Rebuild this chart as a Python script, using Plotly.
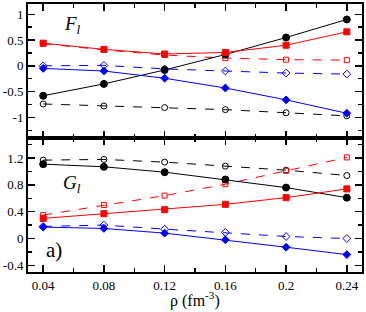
import plotly.graph_objects as go
from plotly.subplots import make_subplots

rho = [0.04, 0.08, 0.12, 0.16, 0.20, 0.24]

# F_l panel
F_black_solid = [-0.58, -0.35, -0.08, 0.22, 0.55, 0.90]
F_black_open = [-0.74, -0.78, -0.81, -0.85, -0.91, -0.97]
F_red_solid = [0.44, 0.32, 0.23, 0.26, 0.40, 0.66]
F_red_open = [0.43, 0.31, 0.21, 0.15, 0.12, 0.11]
F_blue_solid = [-0.05, -0.10, -0.24, -0.43, -0.66, -0.92]
F_blue_open = [0.00, 0.01, -0.06, -0.10, -0.14, -0.16]

# G_l panel
G_black_solid = [1.11, 1.07, 0.99, 0.88, 0.76, 0.61]
G_black_open = [1.17, 1.18, 1.14, 1.08, 1.02, 0.94]
G_red_solid = [0.30, 0.37, 0.43, 0.51, 0.61, 0.74]
G_red_open = [0.35, 0.50, 0.64, 0.81, 1.01, 1.21]
G_blue_solid = [0.17, 0.15, 0.08, -0.02, -0.13, -0.24]
G_blue_open = [0.18, 0.20, 0.14, 0.09, 0.03, 0.00]

x_ticks = [0.04, 0.08, 0.12, 0.16, 0.2, 0.24]
x_ticktext = ["0.04", "0.08", "0.12", "0.16", "0.2", "0.24"]
F_ticks = [-1, -0.5, 0, 0.5, 1]
F_ticktext = ["-1", "-0.5", "0", "0.5", "1"]
G_ticks = [-0.4, 0, 0.4, 0.8, 1.2]
G_ticktext = ["-0.4", "0", "0.4", "0.8", "1.2"]

BLACK = "#000000"
RED = "#ff0000"
BLUE = "#0000ff"
SERIF = "Liberation Serif, Times New Roman, Times, serif"

fig = make_subplots(rows=2, cols=1, shared_xaxes=True, vertical_spacing=0)

def add(row, y, color, symbol, dash, size):
    fig.add_trace(go.Scatter(
        x=rho, y=y, mode="lines+markers",
        line=dict(color=color, width=1, dash=dash),
        marker=dict(symbol=symbol, size=size, color=color,
                    line=dict(color=color, width=1)),
        showlegend=False, hoverinfo="skip"), row=row, col=1)

for row, data in [(1, (F_black_open, F_red_open, F_blue_open, F_black_solid, F_red_solid, F_blue_solid)),
                  (2, (G_black_open, G_red_open, G_blue_open, G_black_solid, G_red_solid, G_blue_solid))]:
    bo, ro, bluo, bs, rs, blus = data
    add(row, bo, BLACK, "circle-open", "dash", 6)
    add(row, ro, RED, "square-open", "dash", 5)
    add(row, bluo, BLUE, "diamond-open", "dash", 6)
    add(row, bs, BLACK, "circle", "solid", 7)
    add(row, rs, RED, "square", "solid", 6)
    add(row, blus, BLUE, "diamond", "solid", 6)

font = dict(family=SERIF, size=13, color="black")
axis_common = dict(showline=True, linecolor="black", linewidth=2, mirror="ticks",
                   ticks="inside", ticklen=7, tickwidth=1.5, tickcolor="black",
                   showgrid=False, zeroline=False, tickfont=font)

fig.update_xaxes(range=[0.03, 0.25], tickvals=x_ticks, ticktext=x_ticktext,
                 minor=dict(dtick=0.02, tick0=0.0, ticks="inside", ticklen=4, tickwidth=1.5, tickcolor="black"),
                 **axis_common)
fig.update_xaxes(showticklabels=False, row=1, col=1)
fig.update_xaxes(showticklabels=True, row=2, col=1)
fig.update_yaxes(range=[-1.4, 1.2], tickvals=F_ticks, ticktext=F_ticktext,
                 minor=dict(dtick=0.25, tick0=0, ticks="inside", ticklen=4, tickwidth=1.5, tickcolor="black"),
                 row=1, col=1, **axis_common)
fig.update_yaxes(range=[-0.5, 1.5], tickvals=G_ticks, ticktext=G_ticktext,
                 minor=dict(dtick=0.2, tick0=0, ticks="inside", ticklen=4, tickwidth=1.5, tickcolor="black"),
                 row=2, col=1, **axis_common)

ann_font = dict(family=SERIF, size=19, color="black")
fig.add_annotation(x=0.059, y=0.80, xref="x", yref="y", text="<i>F</i><sub><i>l</i></sub>",
                   showarrow=False, font=ann_font)
fig.add_annotation(x=0.059, y=0.81, xref="x2", yref="y2", text="<i>G</i><sub><i>l</i></sub>",
                   showarrow=False, font=ann_font)
fig.add_annotation(x=0.047, y=-0.17, xref="x2", yref="y2", text="a)",
                   showarrow=False, font=dict(family=SERIF, size=21, color="black"))
fig.add_annotation(x=0.5, y=-0.104, xref="paper", yref="paper", text="ρ (fm<sup>-3</sup>)",
                   showarrow=False, yanchor="middle", font=dict(family=SERIF, size=16, color="black"))

fig.update_layout(width=366, height=312, margin=dict(l=28, r=4, t=2, b=40),
                  plot_bgcolor="white", paper_bgcolor="white", font=font, hovermode=False)

fig.write_html("out.html", config={"displayModeBar": False, "staticPlot": True},
               post_script="document.body.style.margin='0';document.body.style.overflow='hidden';")
